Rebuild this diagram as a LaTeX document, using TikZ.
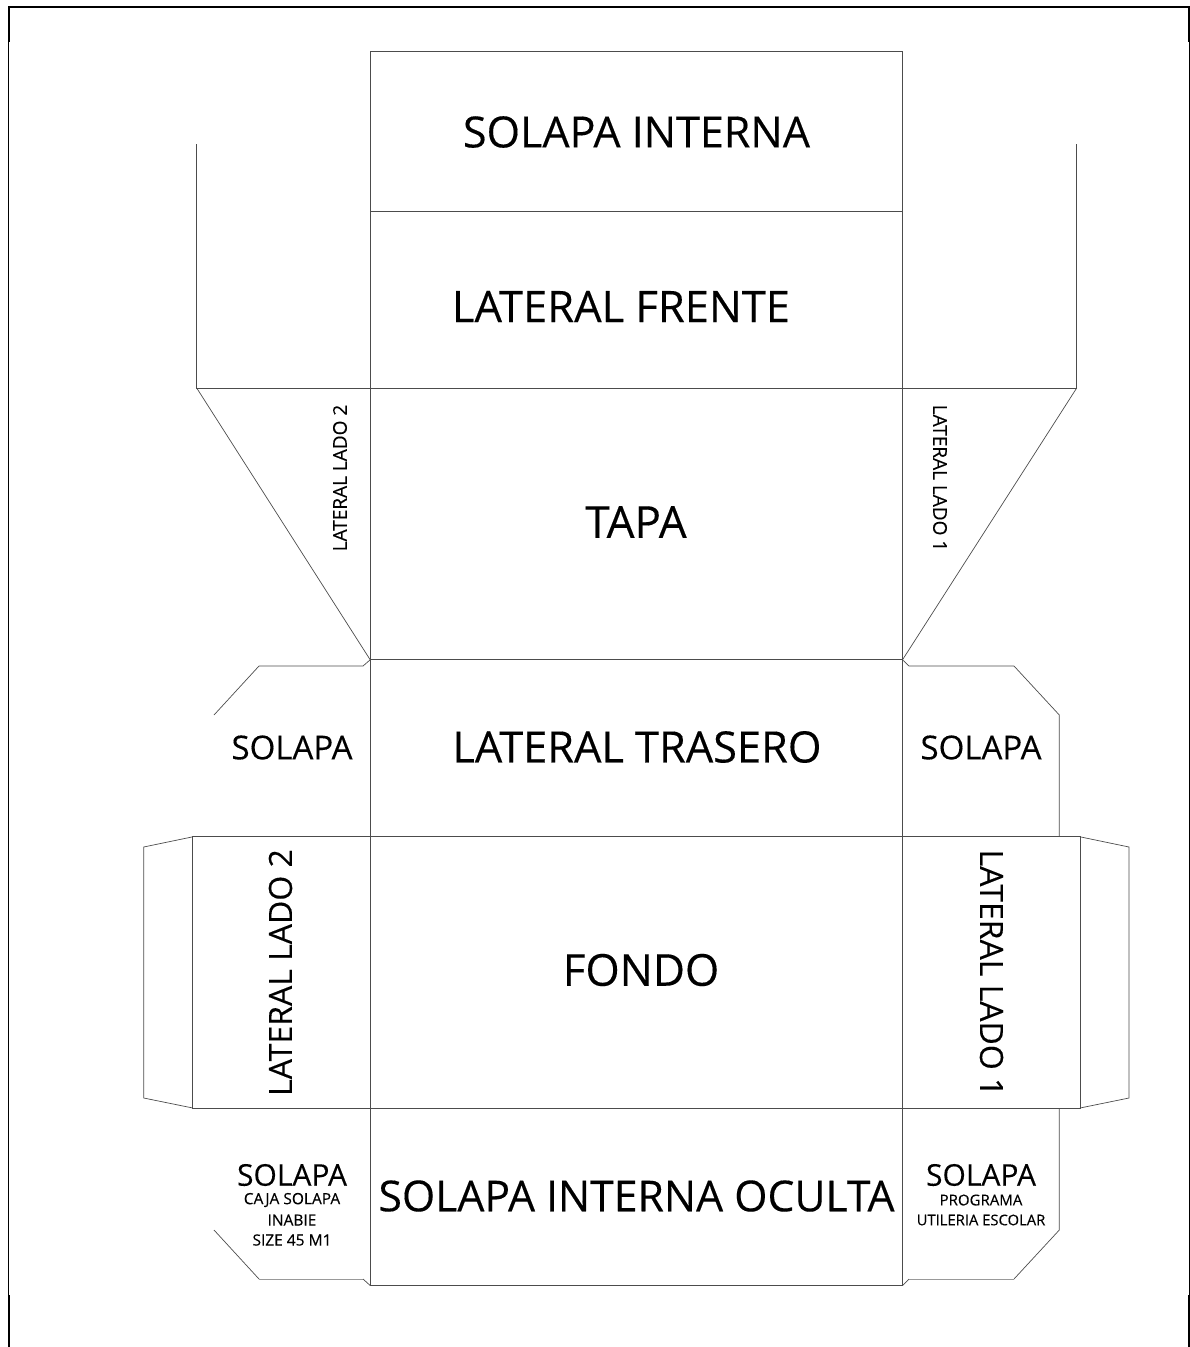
\documentclass[tikz,border=0pt]{standalone}
\usepackage{fontspec}
\setmainfont[FakeBold=0.25]{Open Sans}
\tikzset{
  x=1pt,y=-1pt,
  cut/.style={draw=black!70,line width=0.7pt},
  cutlight/.style={draw=black!40,line width=0.7pt},
  frameline/.style={draw=black,line cap=butt},
  lab/.style={inner sep=0pt,text=black,font=\fontsize{#1}{#1}\selectfont},
  lab/.default=40
}
\begin{document}
\begin{tikzpicture}
\useasboundingbox (0,0) rectangle (1190,1347);
% frame
\draw[frameline,line width=2pt] (9,42) -- (9,7) -- (1189,7) -- (1189,42);
\draw[frameline,line width=1.1pt] (8.5,42) -- (8.5,1295);
\draw[frameline,line width=1.1pt] (1189.5,42) -- (1189.5,1295);
\draw[frameline,line width=2pt] (9,1295) -- (9,1347);
\draw[frameline,line width=2pt] (1189,1295) -- (1189,1347);
% centre column
\draw[cut] (370.2,51) rectangle (902.5,1285.5);
\foreach \y in {211,388,659.8,836.8,1108} \draw[cut] (370.2,\y) -- (902.5,\y);
% upper side panels
\draw[cut] (196.7,144) -- (196.7,388) -- (370.2,388);
\draw[cut] (196.7,388) -- (370.2,659.8);
\draw[cut] (1076.7,144) -- (1076.7,388) -- (902.5,388);
\draw[cut] (1076.7,388) -- (902.5,659.8);
% solapas upper
\draw[cut] (214,715) -- (259,666) -- (363,666) -- (370.2,659.8);
\draw[cut] (902.5,659.8) -- (909,666) -- (1014,666) -- (1059.3,715) -- (1059.3,836.8);
% middle band
\draw[cut] (370.2,836.8) -- (192.8,836.8) -- (192.8,1108) -- (370.2,1108);
\draw[cut] (192.8,836.8) -- (143.7,847) -- (143.7,1098) -- (192.8,1108);
\draw[cut] (902.5,836.8) -- (1080,836.8) -- (1080,1108) -- (902.5,1108);
\draw[cut] (1080,836.8) -- (1129,847) -- (1129,1098) -- (1080,1108);
% solapas lower
\draw[cut] (214,1230) -- (259,1279);
\draw[cutlight] (259,1279) -- (363,1279);
\draw[cut] (363,1279) -- (370.2,1285.5);
\draw[cut] (902.5,1285.5) -- (909,1279);
\draw[cutlight] (909,1279) -- (1014,1279);
\draw[cut] (1014,1279) -- (1059.3,1230) -- (1059.3,1108);
% labels
\node[lab=43] (si) at (636.5,132) {SOLAPA INTERNA};
\node[lab=43.5] (lf) at (621,306.5) {LATERAL FRENTE};
\node[lab=44] (tp) at (636,522) {TAPA};
\node[lab=43.3] (lt) at (637,747) {LATERAL TRASERO};
\node[lab=44] (fo) at (641,970) {FONDO};
\node[lab=42.7] (sio) at (636.5,1196) {SOLAPA INTERNA OCULTA};
\node[lab=33] (s1) at (292,747.5) {SOLAPA};
\node[lab=33] (s2) at (981,747.5) {SOLAPA};
\node[lab=32] (ll2n) [rotate=90] at (280.5,972.5) {LATERAL LADO 2};
\node[lab=32] (ll1) [rotate=-90] at (991.5,973) {LATERAL LADO 1};
\node[lab=19] (l2s) [rotate=90] at (340,478) {LATERAL LADO 2};
\node[lab=19] (l1s) [rotate=-90] at (940,478) {LATERAL LADO 1};
\node[lab=30] (s3) at (292,1175) {SOLAPA};
\node[lab=15.5] (a1) at (292,1200) {CAJA SOLAPA};
\node[lab=15.5] (a2) at (292,1220) {INABIE};
\node[lab=15.5] (a3) at (292,1240) {SIZE 45 M1};
\node[lab=30] (s4) at (981,1175) {SOLAPA};
\node[lab=15] (b1) at (981,1200) {PROGRAMA};
\node[lab=14.8] (b2) at (981,1220) {UTILERIA ESCOLAR};
\end{tikzpicture}
\end{document}
